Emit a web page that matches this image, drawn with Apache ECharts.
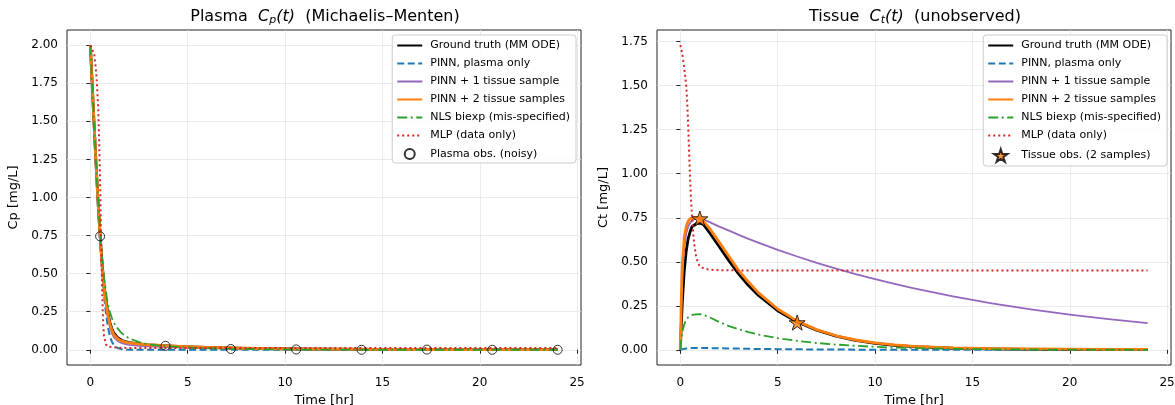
<!DOCTYPE html>
<html><head><meta charset="utf-8">
<script src="https://cdn.jsdelivr.net/npm/echarts@6/dist/echarts.min.js"></script>
<style>html,body{margin:0;padding:0;background:#fff}#c{width:1175px;height:405px}</style>
</head><body><div id="c"></div>
<script>
// ---------- Plasma panel ----------
const tP      = [0, 0.1, 0.2, 0.3, 0.4, 0.5, 0.6, 0.7, 0.8, 0.9, 1.0, 1.1, 1.2, 1.4, 1.6, 1.8, 2.0, 2.5, 3, 4, 5, 6, 8, 10, 12, 15, 18, 21, 24];
const cpTruth = [2.0, 1.73, 1.46, 1.20, 0.96, 0.75, 0.57, 0.43, 0.32, 0.24, 0.18, 0.14, 0.11, 0.08, 0.063, 0.053, 0.047, 0.038, 0.032, 0.025, 0.019, 0.015, 0.009, 0.006, 0.004, 0.002, 0.001, 0.001, 0.0005];
const cpPinn0 = [2.0, 1.72, 1.45, 1.18, 0.93, 0.72, 0.52, 0.36, 0.24, 0.15, 0.09, 0.055, 0.032, 0.012, 0.004, 0.001, 0, 0, 0, 0, 0, 0, 0, 0, 0, 0, 0, 0, 0];
const cpPinn1 = [2.0, 1.73, 1.46, 1.19, 0.95, 0.74, 0.55, 0.40, 0.29, 0.21, 0.15, 0.11, 0.085, 0.058, 0.045, 0.037, 0.032, 0.026, 0.022, 0.018, 0.015, 0.012, 0.008, 0.006, 0.004, 0.003, 0.002, 0.001, 0.001];
const cpPinn2 = [2.0, 1.73, 1.46, 1.20, 0.96, 0.75, 0.56, 0.42, 0.31, 0.23, 0.17, 0.13, 0.10, 0.072, 0.058, 0.05, 0.045, 0.038, 0.033, 0.026, 0.02, 0.016, 0.01, 0.006, 0.004, 0.002, 0.001, 0.001, 0.001];
const cpNls    = [2.0, 1.72, 1.45, 1.20, 0.97, 0.77, 0.61, 0.48, 0.38, 0.30, 0.25, 0.21, 0.18, 0.14, 0.11, 0.09, 0.075, 0.05, 0.035, 0.022, 0.015, 0.01, 0.005, 0.002, 0.001, 0, 0, 0, 0];
const tPmlp   = [0, 0.1, 0.2, 0.3, 0.35, 0.4, 0.45, 0.5, 0.55, 0.6, 0.65, 0.7, 0.8, 0.9, 1.0, 1.5, 2, 4, 8, 12, 16, 20, 24];
const cpMlp   = [2.0, 1.99, 1.94, 1.82, 1.72, 1.60, 1.38, 1.10, 0.75, 0.42, 0.20, 0.09, 0.035, 0.02, 0.016, 0.013, 0.012, 0.012, 0.012, 0.012, 0.012, 0.012, 0.012];
const tObs    = [0.5, 3.857, 7.214, 10.571, 13.929, 17.286, 20.643, 24.0];
const cpObs   = [0.745, 0.026, 0.005, 0.002, 0.0, 0.001, 0.0, 0.0];

// ---------- Tissue panel ----------
const tT      = [0, 0.05, 0.1, 0.2, 0.3, 0.4, 0.5, 0.6, 0.8, 1.0, 1.2, 1.5, 2, 2.5, 3, 3.5, 4, 5, 6, 7, 8, 9, 10, 11, 12, 14, 16, 18, 20, 22, 24];
const ctTruth = [0, 0.15, 0.27, 0.45, 0.56, 0.63, 0.67, 0.70, 0.715, 0.72, 0.71, 0.665, 0.585, 0.505, 0.43, 0.365, 0.31, 0.222, 0.158, 0.112, 0.078, 0.054, 0.037, 0.026, 0.018, 0.009, 0.005, 0.003, 0.002, 0.001, 0.001];
const ctPinn0 = [0, 0.002, 0.004, 0.006, 0.007, 0.008, 0.009, 0.01, 0.01, 0.01, 0.01, 0.01, 0.009, 0.008, 0.007, 0.006, 0.005, 0.004, 0.003, 0.002, 0.002, 0.001, 0.001, 0.001, 0.001, 0, 0, 0, 0, 0, 0];
const ctPinn1 = [0, 0.25, 0.42, 0.58, 0.66, 0.70, 0.72, 0.735, 0.748, 0.75, 0.74, 0.725, 0.70, 0.677, 0.653, 0.63, 0.609, 0.568, 0.53, 0.494, 0.461, 0.43, 0.401, 0.374, 0.349, 0.304, 0.264, 0.23, 0.20, 0.174, 0.152];
const ctPinn2 = [0, 0.30, 0.48, 0.64, 0.70, 0.73, 0.745, 0.752, 0.752, 0.745, 0.728, 0.69, 0.61, 0.53, 0.45, 0.385, 0.325, 0.232, 0.163, 0.115, 0.08, 0.056, 0.04, 0.028, 0.02, 0.011, 0.007, 0.005, 0.004, 0.003, 0.003];
const ctNls    = [0, 0.06, 0.10, 0.145, 0.17, 0.185, 0.193, 0.198, 0.202, 0.203, 0.198, 0.185, 0.158, 0.135, 0.117, 0.101, 0.087, 0.066, 0.051, 0.039, 0.030, 0.023, 0.017, 0.013, 0.010, 0.006, 0.003, 0.002, 0.001, 0.001, 0.0];
const tTmlp   = [0, 0.1, 0.2, 0.3, 0.35, 0.4, 0.45, 0.5, 0.55, 0.6, 0.7, 0.8, 0.9, 1.0, 1.2, 1.5, 2, 3, 5, 8, 12, 16, 20, 24];
const ctMlp   = [1.73, 1.68, 1.60, 1.50, 1.41, 1.28, 1.12, 0.97, 0.85, 0.75, 0.61, 0.535, 0.495, 0.475, 0.462, 0.455, 0.452, 0.451, 0.451, 0.451, 0.451, 0.451, 0.451, 0.451];
const tTis    = [1.0, 6.0];
const ctTis   = [0.745, 0.155];

// ---------- tick labels ----------
const xTicks  = [0, 5, 10, 15, 20, 25];
const yTicksP = [0, 0.25, 0.5, 0.75, 1.0, 1.25, 1.5, 1.75, 2.0];
const yTicksT = [0, 0.25, 0.5, 0.75, 1.0, 1.25, 1.5, 1.75];

const names = ['Ground truth (MM ODE)', 'PINN, plasma only', 'PINN + 1 tissue sample', 'PINN + 2 tissue samples', 'NLS biexp (mis-specified)', 'MLP (data only)'];
const obsP = 'Plasma obs. (noisy)';
const obsT = 'Tissue obs. (2 samples)';

const zip = (t, v) => t.map((x, i) => [x, v[i]]);
const FONT = 'DejaVu Sans';
const STAR = 'path://M0,-1L0.2245,-0.309L0.951,-0.309L0.3633,0.118L0.5878,0.809L0,0.382L-0.5878,0.809L-0.3633,0.118L-0.951,-0.309L-0.2245,-0.309Z';

const styles = [
  {color: '#000000', width: 2.8, type: 'solid'},
  {color: '#1f77b4', width: 2, type: [7, 3.5]},
  {color: '#9467bd', width: 1.8, type: 'solid'},
  {color: '#ff7f0e', width: 2.8, type: 'solid'},
  {color: '#2ca02c', width: 1.8, type: [10, 3.5, 2, 3.5]},
  {color: '#d62728', width: 2, type: [2, 3]}
];

function lineSeries(idx, t, v, ax) {
  const s = styles[idx];
  return {
    type: 'line', name: names[idx], xAxisIndex: ax, yAxisIndex: ax,
    data: zip(t, v), symbol: 'none', smooth: false,
    lineStyle: {color: s.color, width: s.width, type: s.type, cap: 'butt', join: 'round'},
    itemStyle: {color: s.color}, silent: true
  };
}

function xAxis(gi) {
  return {
    type: 'value', gridIndex: gi, min: -1.2, max: 25.2,
    name: 'Time [hr]', nameLocation: 'middle', nameGap: 28,
    nameTextStyle: {fontFamily: FONT, fontSize: 13, color: '#000'},
    axisLine: {show: false},
    axisTick: {show: true, length: 4, customValues: xTicks, lineStyle: {color: '#222'}},
    axisLabel: {customValues: xTicks, fontFamily: FONT, fontSize: 12, color: '#000', margin: 12},
    splitLine: {show: true, lineStyle: {color: '#e6e6e6', width: 0.8}}
  };
}
function yAxis(gi, min, max, ticks, name) {
  return {
    type: 'value', gridIndex: gi, min: min, max: max,
    name: name, nameLocation: 'middle', nameGap: 47,
    nameTextStyle: {fontFamily: FONT, fontSize: 13, color: '#000'},
    axisLine: {show: false},
    axisTick: {show: true, length: 4, customValues: ticks, lineStyle: {color: '#222'}},
    axisLabel: {customValues: ticks, fontFamily: FONT, fontSize: 12, color: '#000', margin: 9,
      formatter: v => v.toFixed(2)},
    splitLine: {show: true, lineStyle: {color: '#e6e6e6', width: 0.8}}
  };
}

const richT = {
  n: {fontFamily: FONT, fontSize: 16, color: '#000'},
  i: {fontFamily: FONT, fontSize: 16, fontStyle: 'italic', color: '#000'},
  s: {fontFamily: FONT, fontSize: 11, fontStyle: 'italic', color: '#000', verticalAlign: 'bottom', padding: [7, 0, 0, 0]}
};

const hideMarker = {color: 'rgba(0,0,0,0)', borderColor: 'rgba(0,0,0,0)', borderWidth: 0};
function legend(right, extra, iconH, gap) {
  const data = names.map(n => ({name: n, itemStyle: hideMarker})).concat([{name: extra}]);
  return {
    orient: 'vertical', right: right, top: 35, data: data,
    itemWidth: 25, itemHeight: iconH, itemGap: gap,
    padding: [5, 6, 3, 4],
    backgroundColor: 'rgba(255,255,255,0.85)', borderColor: '#cccccc', borderWidth: 1, borderRadius: 3,
    textStyle: {fontFamily: FONT, fontSize: 11, color: '#000', padding: [0, 0, 0, 3]},
    selectedMode: false
  };
}

const series = [
  lineSeries(0, tP, cpTruth, 0),
  lineSeries(1, tP, cpPinn0, 0),
  lineSeries(2, tP, cpPinn1, 0),
  lineSeries(3, tP, cpPinn2, 0),
  lineSeries(4, tP, cpNls, 0),
  lineSeries(5, tPmlp, cpMlp, 0),
  {type: 'scatter', name: obsP, xAxisIndex: 0, yAxisIndex: 0, data: zip(tObs, cpObs),
   symbol: 'circle', symbolSize: 9, itemStyle: {color: 'rgba(0,0,0,0)', borderColor: '#000', borderWidth: 1}, z: 5},
  lineSeries(0, tT, ctTruth, 1),
  lineSeries(1, tT, ctPinn0, 1),
  lineSeries(2, tT, ctPinn1, 1),
  lineSeries(3, tT, ctPinn2, 1),
  lineSeries(4, tT, ctNls, 1),
  lineSeries(5, tTmlp, ctMlp, 1),
  {type: 'scatter', name: obsT, xAxisIndex: 1, yAxisIndex: 1, data: zip(tTis, ctTis),
   symbol: STAR, symbolKeepAspect: true, symbolSize: 16, itemStyle: {color: '#ff7f0e', borderColor: '#000', borderWidth: 1}, z: 5}
];

const option = {
  animation: false,
  backgroundColor: '#ffffff',
  textStyle: {fontFamily: FONT},
  title: [
    {text: '{n|Plasma  }{i|C}{s|p}{i|(t)}{n|  (Michaelis–Menten)}', left: 320, top: 3, textAlign: 'center',
     textStyle: {fontFamily: FONT, fontSize: 16, fontWeight: 'normal', color: '#000', rich: richT}},
    {text: '{n|Tissue  }{i|C}{s|t}{i|(t)}{n|  (unobserved)}', left: 910, top: 3, textAlign: 'center',
     textStyle: {fontFamily: FONT, fontSize: 16, fontWeight: 'normal', color: '#000', rich: richT}}
  ],
  grid: [
    {left: 67, top: 30, width: 514, height: 335, containLabel: false, outerBoundsMode: 'none',
     show: true, borderColor: '#222', borderWidth: 1, backgroundColor: '#fff'},
    {left: 657, top: 30, width: 514, height: 335, containLabel: false, outerBoundsMode: 'none',
     show: true, borderColor: '#222', borderWidth: 1, backgroundColor: '#fff'}
  ],
  xAxis: [xAxis(0), xAxis(1)],
  yAxis: [yAxis(0, -0.1, 2.1, yTicksP, 'Cp [mg/L]'), yAxis(1, -0.086, 1.816, yTicksT, 'Ct [mg/L]')],
  legend: [legend(599, obsP, 10, 7), legend(8, obsT, 13, 7)],
  series: series
};

const chart = echarts.init(document.getElementById('c'), null, {renderer: 'canvas'});
chart.setOption(option);
</script>
</body></html>
